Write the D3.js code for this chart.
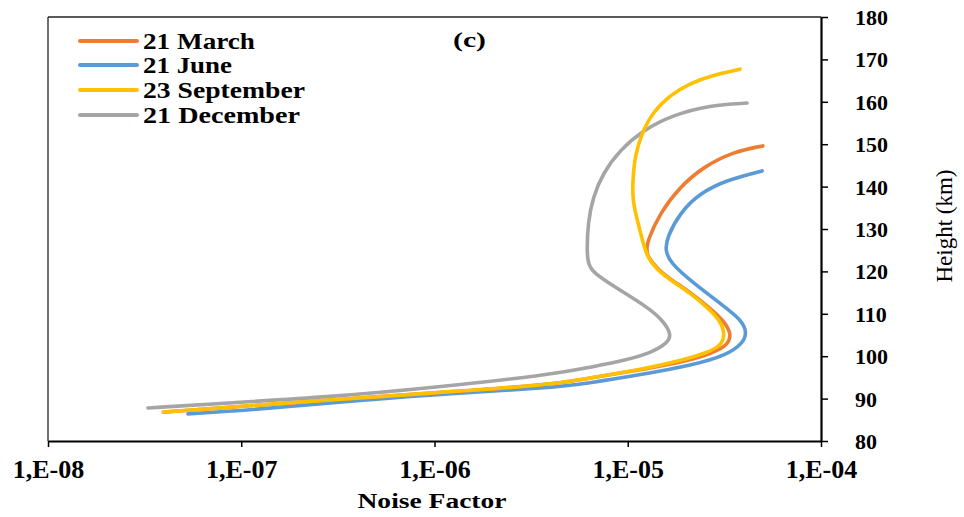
<!DOCTYPE html>
<html>
<head>
<meta charset="utf-8">
<script src="https://cdn.jsdelivr.net/npm/d3@7"></script>
<style>
  html, body { margin: 0; padding: 0; background: #fff; }
  svg { display: block; }
  text { font-family: "Liberation Serif", "Times New Roman", serif; fill: #000; }
</style>
</head>
<body>
<svg id="chart" width="964" height="517"></svg>
<script>
// ---------- data ----------
const seriesNames = ["21 March", "21 June", "23 September", "21 December"];
const seriesColors = ["#ED7D31", "#5B9BD5", "#FFC000", "#A5A5A5"];

const xTickValues = [1e-8, 1e-7, 1e-6, 1e-5, 1e-4];
const xTickLabels = ["1,E-08", "1,E-07", "1,E-06", "1,E-05", "1,E-04"];
const yTickValues = [80, 90, 100, 110, 120, 130, 140, 150, 160, 170, 180];

const marchHeight = [86.8, 88.0, 89.7, 91.3, 93.2, 95.0, 97.0, 99.0, 100.8, 102.6, 105.3, 108.5, 111.6, 114.9, 118.0, 120.3, 123.4, 125.0, 127.4, 133.8, 139.9, 144.6, 148.2, 149.6];
const marchNoise  = [4.0e-8, 8.8e-8, 2.9e-7, 9.6e-7, 4.0e-6, 6.6e-6, 1.25e-5, 2.1e-5, 2.75e-5, 3.30e-5, 3.45e-5, 3.12e-5, 2.62e-5, 2.13e-5, 1.68e-5, 1.44e-5, 1.27e-5, 1.25e-5, 1.27e-5, 1.47e-5, 1.86e-5, 2.45e-5, 3.51e-5, 5.0e-5];

const juneHeight = [86.4, 87.3, 89.0, 90.9, 92.5, 93.7, 95.6, 97.9, 100.3, 103.1, 105.5, 108.5, 112.5, 117.3, 122.0, 125.0, 128.1, 133.8, 138.5, 141.6, 143.7];
const juneNoise  = [5.3e-8, 1.11e-7, 2.88e-7, 9.5e-7, 3.96e-6, 6.38e-6, 1.16e-5, 2.18e-5, 3.27e-5, 3.94e-5, 4.14e-5, 3.90e-5, 3.00e-5, 2.18e-5, 1.66e-5, 1.56e-5, 1.60e-5, 1.86e-5, 2.37e-5, 3.27e-5, 4.96e-5];

const septHeight = [86.8, 88.0, 89.7, 91.3, 93.2, 94.9, 96.8, 99.1, 100.8, 102.6, 105.5, 108.5, 111.6, 114.9, 118.0, 120.3, 123.4, 127.4, 132.1, 136.8, 141.1, 147.5, 152.9, 157.6, 161.6, 164.4, 166.3, 167.7];
const septNoise  = [3.94e-8, 8.75e-8, 2.88e-7, 9.5e-7, 3.96e-6, 6.38e-6, 1.16e-5, 1.93e-5, 2.57e-5, 3.08e-5, 3.18e-5, 3.00e-5, 2.57e-5, 2.10e-5, 1.66e-5, 1.42e-5, 1.26e-5, 1.19e-5, 1.12e-5, 1.06e-5, 1.06e-5, 1.09e-5, 1.19e-5, 1.35e-5, 1.66e-5, 2.10e-5, 2.76e-5, 3.81e-5];

const decHeight = [87.8, 89.0, 90.4, 92.5, 95.6, 97.5, 99.1, 101.0, 103.1, 105.0, 108.5, 111.6, 115.6, 119.6, 122.0, 125.0, 131.4, 137.5, 143.2, 148.6, 153.3, 156.9, 159.2, 159.7];
const decNoise  = [3.29e-8, 8.75e-8, 2.88e-7, 9.5e-7, 3.96e-6, 6.6e-6, 9.9e-6, 1.35e-5, 1.60e-5, 1.69e-5, 1.52e-5, 1.26e-5, 9.1e-6, 6.6e-6, 6.22e-6, 6.15e-6, 6.22e-6, 6.6e-6, 7.45e-6, 9.1e-6, 1.20e-5, 1.71e-5, 2.67e-5, 4.14e-5];

const seriesHeights = [marchHeight, juneHeight, septHeight, decHeight];
const seriesNoise = [marchNoise, juneNoise, septNoise, decNoise];

// ---------- layout ----------
const svg = d3.select("#chart");
const plotLeft = 48, plotRight = 821, plotTop = 17, plotBottom = 441;

const x = d3.scaleLog().domain([1e-8, 1e-4]).range([plotLeft, plotRight]);
const y = d3.scaleLinear().domain([80, 180]).range([plotBottom, plotTop]);

// frame (top + left)
svg.append("line").attr("x1", plotLeft).attr("x2", plotRight).attr("y1", plotTop).attr("y2", plotTop)
  .attr("stroke", "#222").attr("stroke-width", 1.3);
svg.append("line").attr("x1", plotLeft).attr("x2", plotLeft).attr("y1", plotTop).attr("y2", plotBottom)
  .attr("stroke", "#222").attr("stroke-width", 1.3);

// series lines
const line = d3.line()
  .x(d => x(d[0]))
  .y(d => y(d[1]))
  .curve(d3.curveBasis);

const drawOrder = [3, 1, 0, 2];
drawOrder.forEach(i => {
  const pts = seriesNoise[i].map((v, k) => [v, seriesHeights[i][k]]);
  svg.append("path")
    .datum(pts)
    .attr("d", line)
    .attr("fill", "none")
    .attr("stroke", seriesColors[i])
    .attr("stroke-width", 3.6)
    .attr("stroke-linecap", "round")
    .attr("stroke-linejoin", "round");
});

// bottom axis
const xAxis = d3.axisBottom(x)
  .tickValues(xTickValues)
  .tickFormat((d, i) => xTickLabels[i])
  .tickSize(6)
  .tickSizeOuter(0);
const gx = svg.append("g").attr("transform", `translate(0,${plotBottom})`).call(xAxis);
gx.select(".domain").attr("stroke", "#000").attr("stroke-width", 2.2);
gx.selectAll(".tick line").attr("stroke", "#000").attr("stroke-width", 1.5);
gx.selectAll(".tick text")
  .attr("y", 19)
  .style("font-family", "'Liberation Serif', serif")
  .style("font-size", "26px")
  .style("font-weight", "bold")
  .attr("fill", "#000");

// right axis
const yAxis = d3.axisRight(y)
  .tickValues(yTickValues)
  .tickSize(7)
  .tickSizeOuter(0)
  .tickFormat(d3.format("d"));
const gy = svg.append("g").attr("transform", `translate(${plotRight},0)`).call(yAxis);
gy.select(".domain").attr("stroke", "#000").attr("stroke-width", 2.2);
gy.selectAll(".tick line").attr("stroke", "#000").attr("stroke-width", 1.5);
gy.selectAll(".tick text")
  .attr("x", 34)
  .attr("dy", "0.34em")
  .style("font-family", "'Liberation Serif', serif")
  .style("font-size", "22px")
  .style("font-weight", "bold")
  .attr("fill", "#000");

// axis titles
svg.append("text")
  .attr("x", 432)
  .attr("y", 508)
  .attr("text-anchor", "middle")
  .attr("textLength", 149)
  .attr("lengthAdjust", "spacingAndGlyphs")
  .style("font-size", "22px")
  .style("font-weight", "bold")
  .text("Noise Factor");

svg.append("text")
  .attr("transform", `translate(952,226) rotate(-90)`)
  .attr("text-anchor", "middle")
  .style("font-size", "23px")
  .text("Height (km)");

// panel label
svg.append("text")
  .attr("x", 469.5)
  .attr("y", 47)
  .attr("text-anchor", "middle")
  .attr("textLength", 33)
  .attr("lengthAdjust", "spacingAndGlyphs")
  .style("font-size", "22px")
  .style("font-weight", "bold")
  .text("(c)");

// legend
const legendY = [41, 65, 90, 115];
const legendTextWidth = [112, 89, 162, 157];
seriesNames.forEach((name, i) => {
  const g = svg.append("g").attr("transform", `translate(0,${legendY[i]})`);
  g.append("line").attr("x1", 80).attr("x2", 137).attr("y1", 0).attr("y2", 0)
    .attr("stroke", seriesColors[i]).attr("stroke-width", 4).attr("stroke-linecap", "round");
  g.append("text").attr("x", 143).attr("y", 7.5)
    .attr("textLength", legendTextWidth[i])
    .attr("lengthAdjust", "spacingAndGlyphs")
    .style("font-size", "23px").style("font-weight", "bold")
    .text(name);
});
</script>
</body>
</html>
